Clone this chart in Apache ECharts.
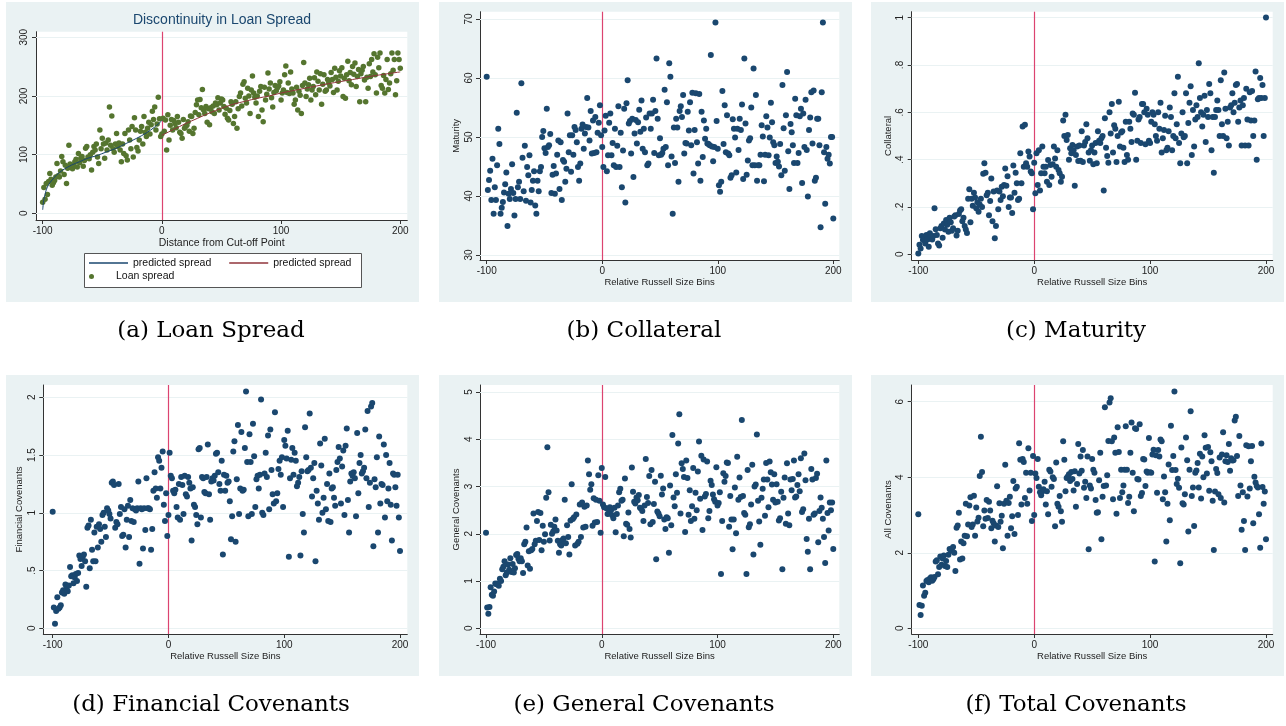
<!DOCTYPE html>
<html>
<head>
<meta charset="utf-8">
<script src="https://cdn.jsdelivr.net/npm/echarts@6.0.0/dist/echarts.min.js"></script>
<style>
  html, body { margin: 0; padding: 0; background: #fff; }
  #chart { width: 1286px; height: 726px; }
</style>
</head>
<body>
<div id="chart"></div>
<script>
// bins run from -100 to 200, one value per bin
const binStart = -100

// (a) loan spread, bps
const loanSpread = [
  19, 44, 24, 51, 32, 54, 68, 58, 48, 52, 56, 62, 85, 64, 62, 72, 97, 88, 66, 82,
  51, 77, 116, 84, 78, 76, 82, 88, 92, 79, 102, 86, 94, 97, 80, 90, 111, 114, 96, 93,
  100, 74, 104, 114, 108, 118, 96, 85, 142, 110, 128, 118, 94, 120, 108, 125, 181, 116, 166, 110,
  104, 118, 136, 114, 120, 108, 88, 118, 102, 136, 98, 91, 142, 125, 110, 148, 96, 163, 142, 112,
  106, 125, 140, 148, 118, 165, 138, 131, 145, 155, 135, 151, 174, 160, 181, 142, 152, 198, 161, 131,
  135, 162, 140, 159, 108, 168, 125, 150, 160, 142, 158, 153, 146, 165, 155, 138, 136, 128, 160, 145,
  148, 150, 156, 140, 166, 165, 136, 145, 172, 185, 193, 168, 194, 180, 211, 176, 170, 182, 155, 178,
  151, 180, 173, 183, 170, 188, 185, 197, 176, 188, 195, 193, 182, 169, 179, 162, 159, 175, 190, 186,
  153, 165, 190, 145, 178, 199, 205, 183, 220, 224, 196, 188, 213, 200, 170, 210, 234, 205, 198, 188,
  200, 165, 208, 216, 176, 156, 215, 193, 203, 239, 212, 222, 197, 181, 206, 218, 209, 214, 217, 224,
  193, 205, 210, 236, 251, 206, 222, 204, 241, 212, 205, 186, 193, 215, 176, 208, 201, 170, 218, 257,
  222, 199, 212, 219, 230, 193, 210, 216, 231, 202, 241, 225, 210, 238, 186, 220, 236, 208, 210, 228,
  222, 217, 240, 228, 206, 247, 232, 210, 225, 243, 234, 248, 199, 230, 196, 236, 259, 226, 240, 219,
  250, 237, 256, 216, 233, 245, 190, 238, 244, 250, 227, 190, 232, 213, 255, 233, 262, 241, 272, 236,
  205, 266, 248, 273, 218, 213, 235, 205, 228, 262, 211, 222, 238, 273, 244, 262, 202, 226, 273, 262,
  247
]
// fitted lines either side of the cut-off
const predLeftX = [-100, -99, -98, -97, -95, -92, -88, -83, -76, -69, -62, -55, -46, -38, -30, -21, -13, -6, 0]
const predLeftY = [6, 24, 32, 40, 49, 57, 66, 74, 82, 88, 94, 98, 105, 111, 119, 128, 137, 147, 158]
const predRightX = [0, 10, 20, 30, 40, 50, 60, 70, 80, 90, 100, 120, 140, 160, 180, 200]
const predRightY = [133, 143, 153, 162, 171, 179, 186, 191, 196, 200, 205, 213, 221, 228, 235, 241]

// (b) maturity, months
const maturity = [
  60.2, 41, 42.7, 44.3, 39.3, 46.3, 37, 41.5, 39.3, 45.2, 51.4, 48.8, 37, 38, 39, 40.6, 42, 44, 34.9, 40.4,
  39.5, 41.2, 45.4, 40.5, 36.7, 39.5, 54.1, 41.5, 42.4, 39.5, 59.1, 46.5, 40.8, 48.5, 39.2, 44.9, 43.5, 46.9, 38.9, 41,
  42.6, 44.2, 38.4, 37, 42.6, 40.8, 44.2, 44.9, 50, 51, 48.1, 47.3, 54.8, 48.3, 48.6, 50.5, 40.5, 43.6, 45.1, 40.4,
  43.8, 47, 49.4, 41.2, 49.1, 39.3, 46.1, 45.8, 42.4, 44.6, 54, 47.4, 50.3, 44.1, 50.3, 47, 51.7, 51.2, 49.1, 44.9,
  42.6, 45.5, 51.4, 52.1, 48, 50.6, 51.7, 56.6, 51.6, 49.4, 54.4, 47.2, 52.8, 47.3, 53.4, 47.4, 50.7, 52.4, 55.4, 50.3,
  48.3, 44.9, 51.1, 53.6, 44.2, 46.9, 52.4, 54, 46.9, 49, 45.2, 51.4, 44.9, 48.5, 55.2, 44.9, 50.7, 41.5, 47.7, 54.8,
  38.9, 55.7, 59.6, 52.3, 52.7, 47.2, 53.1, 43.2, 50.6, 52.9, 48.9, 52.5, 54.6, 50.9, 56.2, 48, 51.4, 47.4, 53.3, 45.2,
  45.5, 54, 51.4, 54, 56.3, 47.3, 54.4, 63.3, 53.1, 46.9, 49.8, 47, 47.3, 48, 58, 48.3, 55.9, 45.2, 62.5, 60.2,
  46.7, 37, 51.6, 45.6, 53.1, 51.6, 42.4, 54.4, 55.2, 53.4, 57.1, 47.2, 49, 48.9, 54.3, 51.1, 55.9, 48.6, 57.5, 43.8,
  51.2, 57.4, 49.1, 45.5, 57.3, 42.6, 54.3, 46.6, 52.8, 49.7, 51.4, 48.9, 48.8, 48.6, 63.9, 48.4, 45.9, 48.3, 69.4, 52.7,
  48, 41.8, 40.7, 42.4, 57.8, 48.8, 55.4, 47.4, 53.7, 47.2, 46.9, 43.1, 43.5, 53, 51.4, 49.9, 44, 51.4, 47.8, 53.1,
  51.2, 55.5, 42.9, 63.3, 52.3, 43.6, 46, 49.4, 49.8, 55, 45.2, 61.6, 45.2, 57.1, 42.6, 45.2, 45.2, 47, 52, 50.1,
  42.5, 47, 53.5, 51.6, 46.9, 49.9, 55.8, 52.5, 49.1, 48.6, 45.6, 46.7, 45.8, 45, 48.8, 43.5, 58.8, 51.5, 44.3, 53.7,
  61, 47.6, 41.2, 52.2, 50.8, 48.6, 45.6, 56.5, 53.7, 45.6, 47.3, 53.5, 54.8, 42.2, 54, 48.3, 56.3, 47.8, 39.9, 51.2,
  53.3, 57.6, 48.9, 57.9, 42.6, 43.1, 53.1, 53.1, 48.6, 34.7, 57.6, 69.4, 47.4, 38.7, 48.3, 46.3, 47, 45.5, 50, 50,
  36.2
]

// (c) collateral share
const collateral = [
  0.003, 0.04, 0.025, 0.077, 0.06, 0.072, 0.046, 0.082, 0.063, 0.032, 0.089, 0.072, 0.063, 0.077, 0.195, 0.106, 0.082, 0.046, 0.037, 0.11,
  0.12, 0.07, 0.13, 0.105, 0.145, 0.125, 0.095, 0.155, 0.135, 0.1, 0.11, 0.16, 0.165, 0.08, 0.1, 0.17, 0.185, 0.19, 0.14, 0.155,
  0.12, 0.105, 0.09, 0.235, 0.275, 0.135, 0.235, 0.205, 0.26, 0.24, 0.195, 0.22, 0.18, 0.21, 0.235, 0.2, 0.34, 0.385, 0.345, 0.25,
  0.26, 0.165, 0.225, 0.32, 0.14, 0.265, 0.068, 0.12, 0.27, 0.19, 0.265, 0.23, 0.285, 0.245, 0.293, 0.363, 0.29, 0.33, 0.2, 0.24,
  0.24, 0.175, 0.375, 0.26, 0.345, 0.3, 0.23, 0.235, 0.427, 0.3, 0.54, 0.37, 0.547, 0.385, 0.37, 0.434, 0.413, 0.35, 0.342, 0.19,
  0.387, 0.258, 0.427, 0.293, 0.44, 0.27, 0.342, 0.455, 0.37, 0.342, 0.37, 0.307, 0.398, 0.293, 0.377, 0.328, 0.38, 0.455, 0.405, 0.37,
  0.44, 0.356, 0.342, 0.307, 0.328, 0.565, 0.5, 0.59, 0.483, 0.504, 0.4, 0.448, 0.427, 0.462, 0.44, 0.29, 0.42, 0.455, 0.394, 0.46,
  0.395, 0.52, 0.39, 0.46, 0.475, 0.55, 0.49, 0.43, 0.395, 0.44, 0.46, 0.38, 0.43, 0.47, 0.385, 0.52, 0.48, 0.47, 0.49, 0.5,
  0.27, 0.575, 0.45, 0.415, 0.387, 0.6, 0.51, 0.635, 0.43, 0.545, 0.53, 0.39, 0.5, 0.645, 0.455, 0.515, 0.52, 0.45, 0.39, 0.56,
  0.42, 0.4, 0.56, 0.53, 0.475, 0.595, 0.59, 0.683, 0.4, 0.48, 0.57, 0.58, 0.47, 0.635, 0.635, 0.6, 0.465, 0.615, 0.59, 0.48,
  0.47, 0.56, 0.6, 0.59, 0.55, 0.5, 0.48, 0.6, 0.53, 0.64, 0.43, 0.49, 0.525, 0.585, 0.44, 0.45, 0.52, 0.62, 0.58, 0.44,
  0.5, 0.68, 0.49, 0.55, 0.75, 0.47, 0.385, 0.51, 0.6, 0.495, 0.5, 0.68, 0.385, 0.555, 0.64, 0.71, 0.42, 0.61, 0.455, 0.57,
  0.63, 0.58, 0.807, 0.66, 0.6, 0.54, 0.59, 0.67, 0.475, 0.61, 0.58, 0.72, 0.68, 0.44, 0.58, 0.345, 0.58, 0.61, 0.65, 0.61,
  0.5, 0.735, 0.55, 0.5, 0.768, 0.615, 0.49, 0.56, 0.46, 0.62, 0.63, 0.68, 0.6, 0.64, 0.715, 0.72, 0.56, 0.62, 0.65, 0.46,
  0.63, 0.66, 0.46, 0.7, 0.57, 0.46, 0.685, 0.565, 0.69, 0.5, 0.565, 0.772, 0.4, 0.655, 0.66, 0.745, 0.66, 0.715, 0.5, 0.66,
  1.0
]

// (d) financial covenants
const finCovenants = [
  1.01, 0.18, 0.04, 0.15, 0.27, 0.17, 0.18, 0.2, 0.31, 0.33, 0.3, 0.38, 0.35, 0.32, 0.37, 0.53, 0.45, 0.46, 0.39, 0.44,
  0.47, 0.41, 0.48, 0.63, 0.6, 0.54, 0.62, 0.64, 0.58, 0.36, 0.87, 0.89, 0.52, 0.94, 0.68, 0.58, 0.83, 0.58, 0.88, 0.7,
  0.9, 0.86, 0.75, 0.98, 1.0, 0.88, 0.79, 1.04, 1.02, 0.99, 0.95, 1.26, 1.27, 1.24, 0.87, 0.92, 0.9, 1.25, 0.99, 1.05,
  0.8, 0.81, 1.03, 0.7, 0.94, 1.06, 0.79, 1.11, 0.93, 1.04, 0.92, 1.03, 1.02, 1.04, 1.27, 0.56, 1.04, 1.03, 0.69, 1.04,
  0.85, 1.3, 1.04, 1.04, 1.03, 0.68, 0.86, 1.19, 1.35, 1.21, 1.13, 1.48, 1.45, 1.21, 1.39, 1.53, 1.07, 0.93, 1.17, 0.8,
  0.98, 1.52, 1.32, 1.3, 1.19, 1.17, 1.2, 1.05, 0.96, 1.25, 0.94, 1.31, 1.24, 0.99, 1.32, 1.16, 1.14, 1.31, 1.26, 1.21,
  0.76, 1.22, 1.07, 1.05, 0.98, 0.9, 1.55, 1.56, 0.96, 1.31, 1.3, 1.18, 1.17, 1.31, 1.59, 1.16, 0.94, 1.27, 1.3, 1.28,
  1.32, 1.51, 1.52, 1.35, 1.25, 1.19, 1.45, 0.64, 1.33, 1.19, 1.32, 1.26, 1.27, 1.1, 0.77, 0.97, 1.53, 1.62, 0.75, 1.29,
  1.76, 0.99, 1.21, 1.7, 1.19, 1.2, 1.56, 2.05, 1.44, 0.97, 1.68, 1.44, 0.99, 1.77, 1.49, 1.05, 1.29, 1.32, 1.21, 1.33,
  1.98, 1.0, 0.98, 1.34, 1.52, 1.31, 1.67, 1.03, 1.72, 1.37, 1.16, 1.08, 1.87, 1.1, 1.17, 1.38, 1.45, 1.33, 1.48, 1.05,
  1.63, 1.58, 1.47, 1.71, 0.62, 1.3, 1.46, 1.56, 1.33, 1.52, 1.45, 1.23, 1.26, 1.31, 0.63, 1.36, 0.99, 0.83, 1.74, 1.48,
  1.36, 1.37, 1.86, 1.39, 1.14, 1.3, 1.43, 0.58, 1.19, 1.08, 0.94, 1.6, 1.41, 1.0, 1.13, 1.64, 1.03, 1.25, 0.93, 1.34,
  0.92, 1.21, 1.22, 1.13, 1.06, 1.37, 1.44, 1.57, 1.47, 1.08, 1.4, 1.54, 0.98, 1.58, 1.73, 1.11, 0.83, 1.27, 1.34, 1.32,
  1.35, 1.3, 0.97, 1.69, 1.17, 1.43, 1.5, 1.34, 1.36, 1.39, 1.72, 1.3, 1.88, 1.05, 1.26, 1.92, 1.95, 0.71, 1.29, 1.22,
  1.48, 0.83, 1.66, 1.08, 1.25, 1.24, 1.59, 0.96, 1.5, 1.1, 1.21, 1.43, 1.07, 0.76, 1.34, 1.33, 1.22, 1.06, 1.33, 0.96,
  0.67
]

// (e) general covenants
const genCovenants = [
  2.02, 0.44, 0.31, 0.45, 0.87, 0.71, 0.69, 0.78, 0.95, 0.93, 0.95, 0.9, 1.05, 1.0, 1.25, 1.3, 1.42, 1.12, 1.18, 1.35,
  1.24, 1.48, 1.19, 1.36, 1.18, 1.27, 1.55, 1.57, 1.47, 1.42, 1.48, 1.42, 1.17, 1.78, 1.83, 2.13, 1.33, 1.63, 1.26, 1.65,
  1.68, 2.43, 1.78, 1.85, 2.27, 2.46, 1.87, 2.44, 1.65, 2.17, 1.83, 1.99, 2.76, 3.83, 2.88, 1.86, 2.19, 2.0, 2.05, 2.15,
  2.3, 2.07, 1.85, 1.6, 1.78, 1.75, 1.87, 1.9, 2.72, 1.8, 2.18, 1.93, 1.56, 2.28, 3.05, 2.31, 2.35, 1.75, 2.41, 1.79,
  1.83, 2.62, 1.93, 2.66, 2.13, 2.57, 2.15, 2.6, 3.55, 3.26, 2.93, 3.05, 2.17, 2.75, 2.24, 2.72, 2.25, 3.24, 2.7, 2.02,
  3.39, 2.62, 2.56, 3.2, 2.54, 2.42, 2.43, 2.56, 2.5, 2.39, 2.33, 2.55, 2.03, 2.42, 2.6, 2.88, 2.95, 2.7, 2.72, 1.95,
  3.17, 2.21, 2.19, 2.45, 2.1, 1.92, 3.4, 2.89, 2.68, 2.64, 2.77, 2.71, 2.82, 2.55, 2.53, 2.48, 2.27, 2.6, 3.58, 2.78,
  2.65, 3.22, 2.2, 3.35, 2.25, 2.63, 3.1, 1.46, 2.47, 2.43, 2.37, 3.23, 2.83, 2.96, 2.3, 2.1, 2.35, 2.33, 1.6, 3.02,
  2.18, 4.09, 2.77, 2.58, 3.26, 2.87, 3.91, 4.53, 2.43, 3.49, 3.37, 3.2, 2.04, 3.55, 3.18, 2.4, 2.92, 2.27, 2.58, 3.39,
  2.32, 2.87, 2.5, 3.32, 3.95, 2.74, 3.65, 2.08, 3.57, 2.79, 2.84, 3.53, 2.33, 2.48, 3.12, 3.03, 2.83, 2.73, 2.68, 3.41,
  2.6, 2.65, 2.88, 1.15, 2.27, 3.28, 3.1, 3.22, 3.51, 3.5, 2.15, 2.8, 2.3, 1.67, 2.3, 2.98, 2.01, 3.63, 2.72, 3.19,
  2.78, 4.41, 2.8, 2.44, 2.4, 1.15, 3.35, 2.14, 2.2, 2.62, 3.46, 1.56, 3.0, 3.04, 4.1, 2.7, 2.26, 1.77, 2.76, 2.95,
  3.15, 2.38, 3.5, 3.15, 2.56, 3.53, 3.3, 3.04, 2.72, 3.26, 2.66, 3.05, 2.68, 2.28, 2.33, 2.89, 1.25, 2.76, 3.19, 2.21,
  3.49, 2.43, 2.18, 3.15, 2.92, 3.16, 3.55, 2.77, 2.79, 3.03, 3.26, 2.9, 3.6, 2.46, 2.52, 3.7, 3.13, 1.89, 1.62, 2.32,
  1.25, 3.37, 3.15, 2.4, 2.43, 3.18, 3.27, 1.82, 2.48, 2.77, 2.55, 2.32, 1.93, 1.38, 3.55, 2.44, 2.07, 2.66, 2.5, 2.66,
  1.68
]

// (f) all covenants
const allCovenants = [
  3.02, 0.62, 0.35, 0.6, 1.13, 0.86, 0.94, 1.25, 1.28, 1.22, 1.32, 1.35, 1.26, 1.3, 1.36, 1.77, 1.8, 1.43, 1.62, 1.9,
  1.68, 1.85, 1.93, 1.65, 1.78, 1.62, 1.95, 2.1, 2.08, 2.05, 2.15, 2.0, 1.52, 2.66, 2.72, 3.06, 1.82, 2.3, 1.85, 2.25,
  2.45, 3.3, 2.44, 2.75, 3.25, 3.47, 2.68, 2.75, 3.51, 2.45, 3.2, 2.83, 2.93, 4.03, 5.07, 4.14, 2.7, 3.12, 2.9, 3.4,
  2.92, 3.35, 3.12, 2.65, 2.85, 2.78, 2.3, 2.72, 3.76, 2.68, 3.31, 2.82, 2.98, 2.12, 3.3, 4.33, 3.38, 2.45, 3.32, 3.48,
  2.65, 2.97, 3.9, 2.5, 3.7, 3.75, 3.0, 4.9, 4.46, 3.28, 4.48, 4.4, 3.45, 4.12, 3.3, 4.77, 3.65, 4.12, 2.84, 4.56,
  3.0, 4.1, 3.98, 4.48, 3.75, 3.6, 3.52, 3.62, 3.68, 3.88, 3.28, 3.63, 3.02, 4.2, 4.15, 3.75, 4.0, 3.95, 2.7, 4.39,
  3.3, 3.22, 3.5, 3.1, 2.82, 4.95, 4.46, 3.63, 3.98, 4.02, 4.08, 3.9, 4.14, 3.95, 3.65, 4.16, 3.22, 3.82, 4.88, 4.1,
  4.55, 4.17, 4.72, 3.72, 3.88, 3.45, 4.55, 2.09, 3.78, 3.7, 4.48, 4.2, 4.12, 3.4, 3.06, 3.07, 3.92, 4.65, 2.36, 3.48,
  3.77, 5.85, 3.78, 4.05, 4.96, 5.98, 6.09, 4.95, 3.42, 5.05, 4.65, 3.03, 5.32, 4.67, 3.45, 4.2, 3.6, 3.78, 4.2, 5.35,
  4.2, 3.32, 3.48, 4.65, 5.45, 4.12, 3.1, 5.3, 5.28, 3.95, 3.94, 5.4, 3.5, 3.58, 4.48, 4.47, 3.77, 4.15, 4.12, 5.04,
  4.13, 4.12, 4.6, 4.73, 1.77, 4.58, 3.59, 4.72, 4.55, 5.0, 4.95, 3.42, 4.02, 3.6, 2.3, 3.3, 4.34, 2.86, 5.36, 4.19,
  4.56, 6.27, 4.19, 3.82, 3.96, 3.72, 1.72, 4.79, 3.31, 3.28, 3.55, 5.05, 4.45, 2.56, 4.2, 5.75, 3.5, 3.73, 2.71, 4.12,
  4.18, 4.38, 3.73, 4.62, 3.44, 4.55, 4.0, 5.11, 4.78, 4.1, 4.8, 3.64, 4.66, 4.42, 3.38, 2.07, 3.62, 4.22, 4.11, 3.55,
  4.52, 3.45, 4.6, 5.19, 3.33, 4.42, 4.58, 4.4, 4.88, 4.17, 4.5, 4.44, 4.45, 5.5, 5.6, 4.56, 3.5, 5.09, 3.78, 2.61,
  3.6, 2.84, 2.07, 4.85, 3.49, 4.82, 3.7, 4.42, 4.83, 2.78, 4.01, 3.86, 3.77, 3.73, 3.02, 2.13, 4.89, 3.74, 3.3, 3.62,
  2.36
]

// tick marks and their labels
const xTicks = [-100, 0, 100, 200]
const spreadTicks = [0, 100, 200, 300]
const maturityTicks = [30, 40, 50, 60, 70]
const collateralTicks = [0, 0.2, 0.4, 0.6, 0.8, 1]
const collateralLabels = ['0', '.2', '.4', '.6', '.8', '1']
const finTicks = [0, 0.5, 1, 1.5, 2]
const finLabels = ['0', '.5', '1', '1.5', '2']
const genTicks = [0, 1, 2, 3, 4, 5]
const allTicks = [0, 2, 4, 6]

const captions = ['(a) Loan Spread', '(b) Collateral', '(c) Maturity',
  '(d) Financial Covenants', '(e) General Covenants', '(f) Total Covenants']

const NAVY = '#1a476f'
const MAROON = '#90353b'
const GREEN = '#55752f'
const XLINE = '#dc4470'
const BG = '#eaf2f3'
const SANS = '"Liberation Sans", Arial, sans-serif'
const LINE_ICON = 'path://M0 0H39V1.6H0Z'

const toPoints = (ys) => ys.map((y, i) => [binStart + i, y])

// layout of each sub-plot, in page pixels
const panels = [
  { values: loanSpread, name: 'Loan spread', color: GREEN, size: 5.5,
    grid: { left: 36, top: 31.7, width: 371.3, height: 188.3 },
    x: [-105.6, 205.9], y: [-11.4, 309.5], yTicks: spreadTicks, yLabels: null,
    xTitle: 'Distance from Cut-off Point', yTitle: '', xNameGap: 15.5, xFont: 10.5, xMargin: 6.5, yMargin: 7 },
  { values: maturity, name: 'Maturity', color: NAVY, size: 6,
    grid: { left: 480, top: 11.7, width: 359.3, height: 248.3 },
    x: [-105.8, 205.2], y: [29.15, 71.24], yTicks: maturityTicks, yLabels: null,
    xTitle: 'Relative Russell Size Bins', yTitle: 'Maturity' },
  { values: collateral, name: 'Collateral', color: NAVY, size: 6,
    grid: { left: 911.7, top: 11.7, width: 361, height: 248.3 },
    x: [-105.7, 205.8], y: [-0.024, 1.025], yTicks: collateralTicks, yLabels: collateralLabels,
    xTitle: 'Relative Russell Size Bins', yTitle: 'Collateral' },
  { values: finCovenants, name: 'Financial Covenants', color: NAVY, size: 6,
    grid: { left: 43.3, top: 385, width: 364, height: 249 },
    x: [-108.1, 206.3], y: [-0.049, 2.106], yTicks: finTicks, yLabels: finLabels,
    xTitle: 'Relative Russell Size Bins', yTitle: 'Financial Covenants' },
  { values: genCovenants, name: 'General Covenants', color: NAVY, size: 6,
    grid: { left: 480, top: 385, width: 359.3, height: 249 },
    x: [-105.2, 205.2], y: [-0.121, 5.148], yTicks: genTicks, yLabels: null,
    xTitle: 'Relative Russell Size Bins', yTitle: 'General Covenants' },
  { values: allCovenants, name: 'All Covenants', color: NAVY, size: 6,
    grid: { left: 911.7, top: 385, width: 361, height: 249 },
    x: [-105.7, 205.8], y: [-0.151, 6.442], yTicks: allTicks, yLabels: null,
    xTitle: 'Relative Russell Size Bins', yTitle: 'All Covenants' }
]
const panelBoxes = [[6, 2, 413, 300], [439, 2, 413, 300], [871, 2, 413, 300],
  [6, 375, 413, 301], [439, 375, 413, 301], [871, 375, 413, 301]]

const axisLineStyle = { color: '#333', width: 1 }

// light grid lines at the y ticks, plus the cut-off line at 0
const refLines = (ticks) => ({
  silent: true,
  symbol: 'none',
  z: 1,
  animation: false,
  label: { show: false },
  emphasis: { disabled: true },
  lineStyle: { type: 'solid' },
  data: ticks.map(v => ({ yAxis: v, lineStyle: { color: BG, width: 1, type: 'solid' } }))
    .concat([{ xAxis: 0, lineStyle: { color: XLINE, width: 1.2, type: 'solid' } }])
})

const grids = panels.map(p => ({ ...p.grid, show: true, backgroundColor: '#fff', borderWidth: 0 }))

const xAxes = panels.map((p, i) => ({
  type: 'value', gridIndex: i, min: p.x[0], max: p.x[1],
  name: p.xTitle, nameLocation: 'middle', nameGap: p.xNameGap || 17,
  nameTextStyle: { fontSize: p.xFont || 9.5, color: '#222', fontFamily: SANS },
  axisLine: { show: true, onZero: false, lineStyle: axisLineStyle },
  axisTick: { show: true, customValues: xTicks, length: 4, lineStyle: axisLineStyle },
  axisLabel: { customValues: xTicks, margin: p.xMargin || 6, fontSize: 10, color: '#222', fontFamily: SANS },
  splitLine: { show: false }
}))

const yAxes = panels.map((p, i) => ({
  type: 'value', gridIndex: i, min: p.y[0], max: p.y[1],
  name: p.yTitle, nameLocation: 'middle', nameRotate: 90, nameGap: 18.5,
  nameTextStyle: { fontSize: 9.5, color: '#222', fontFamily: SANS },
  axisLine: { show: true, onZero: false, lineStyle: axisLineStyle },
  axisTick: { show: true, customValues: p.yTicks, length: 4, lineStyle: axisLineStyle },
  axisLabel: {
    customValues: p.yTicks, rotate: 90, margin: p.yMargin || 6, fontSize: 10, color: '#222', fontFamily: SANS,
    formatter: (v) => {
      const k = p.yTicks.indexOf(v)
      return p.yLabels && k >= 0 ? p.yLabels[k] : String(v)
    }
  },
  splitLine: { show: false }
}))

const series = panels.map((p, i) => ({
  type: 'scatter', name: p.name, xAxisIndex: i, yAxisIndex: i,
  data: toPoints(p.values), symbol: 'circle', symbolSize: p.size,
  itemStyle: { color: p.color, opacity: 1 },
  emphasis: { disabled: true },
  markLine: refLines(p.yTicks),
  z: 2
}))
series.push({
  type: 'line', name: 'predicted spread', xAxisIndex: 0, yAxisIndex: 0,
  data: predLeftX.map((x, k) => [x, predLeftY[k]]), symbol: 'none', smooth: 0.3,
  lineStyle: { color: NAVY, width: 1 }, itemStyle: { color: NAVY }, z: 3
})
series.push({
  // trailing space keeps the two legend entries apart
  type: 'line', name: 'predicted spread ', xAxisIndex: 0, yAxisIndex: 0,
  data: predRightX.map((x, k) => [x, predRightY[k]]), symbol: 'none', smooth: 0.3,
  lineStyle: { color: MAROON, width: 1 }, itemStyle: { color: MAROON }, z: 3
})

const graphics = panelBoxes.map(b => ({
  type: 'rect', z: -10, silent: true,
  shape: { x: b[0], y: b[1], width: b[2], height: b[3] },
  style: { fill: BG }
}))
graphics.push({
  type: 'rect', z: 3, silent: true,
  shape: { x: 84.5, y: 253.5, width: 277, height: 34 },
  style: { fill: '#fff', stroke: '#555', lineWidth: 1 }
})
graphics.push({
  type: 'text', x: 222, y: 20.5, silent: true,
  style: { text: 'Discontinuity in Loan Spread', align: 'center', verticalAlign: 'middle',
    font: '14px "Liberation Sans", Arial, sans-serif', fill: NAVY }
})
captions.forEach((c, i) => {
  const b = panelBoxes[i]
  graphics.push({
    type: 'text', x: b[0] + b[2] / 2 - 1.5, y: i < 3 ? 331.5 : 705.5, silent: true,
    style: { text: c, align: 'center', verticalAlign: 'middle',
      font: '23px "DejaVu Serif", serif', fill: '#000' }
  })
})

const chart = echarts.init(document.getElementById('chart'))
chart.setOption({
  animation: false,
  backgroundColor: '#fff',
  grid: grids,
  xAxis: xAxes,
  yAxis: yAxes,
  legend: [
    { data: [{ name: 'predicted spread', icon: LINE_ICON }, { name: 'predicted spread ', icon: LINE_ICON }],
      left: 89, top: 257.5, padding: 0,
      itemGap: 18, itemWidth: 39, itemHeight: 10, selectedMode: false,
      textStyle: { fontSize: 10.5, color: '#111', fontFamily: SANS } },
    { data: [{ name: 'Loan spread', icon: 'circle' }], left: 89, top: 271, padding: 0,
      itemWidth: 39, itemHeight: 5, selectedMode: false,
      textStyle: { fontSize: 10.5, color: '#111', fontFamily: SANS } }
  ],
  graphic: graphics,
  series: series
})
</script>
</body>
</html>
